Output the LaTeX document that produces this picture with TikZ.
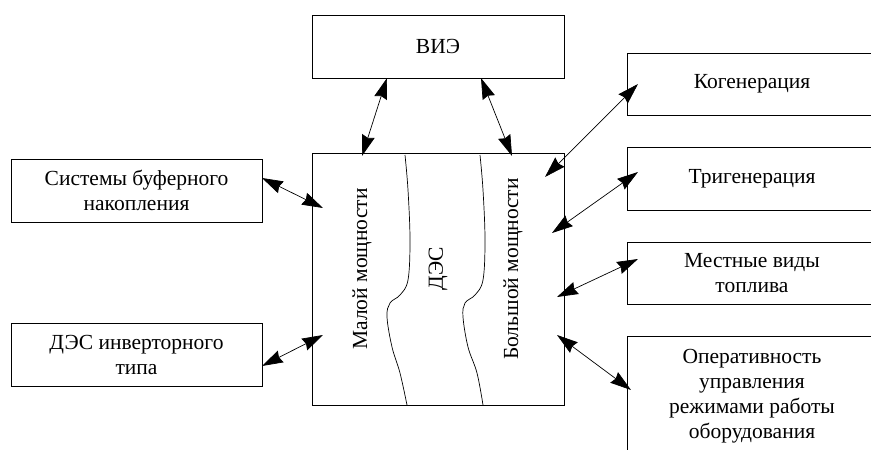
\documentclass[tikz,border=0pt]{standalone}
\usepackage{fontspec}
\setmainfont{Liberation Serif}
\usetikzlibrary{arrows.meta}
\begin{document}
\begin{tikzpicture}[x=1pt,y=-1pt,
  box/.style={draw, line width=0.8pt, rectangle, inner sep=0pt, align=center,
    font=\fontsize{21.5}{25}\selectfont},
  lbl/.style={inner sep=0pt, align=center, font=\fontsize{21.5}{25}\selectfont},
  arr/.tip={Stealth[length=21pt,width=13pt,inset=2pt]},
  conn/.style={line width=0.7pt, arr-arr},
  wave/.style={line width=0.7pt}]
\useasboundingbox (0,0) rectangle (871,450);
\clip (0,0) rectangle (871,450);
% boxes
\node[box, minimum width=252pt, minimum height=63pt] (vie) at (438,46.5) {ВИЭ};
\node[box, minimum width=252pt, minimum height=252pt] (des) at (438,279) {};
\node[box, minimum width=251pt, minimum height=63pt] (buf) at (136.5,190.5) {};
\node[lbl] at (buf) {Системы буферного\\накопления};
\node[box, minimum width=251pt, minimum height=63pt] (inv) at (136.5,354.5) {};
\node[lbl] at (inv) {ДЭС инверторного\\типа};
\node[box, minimum width=250pt, minimum height=62pt] (kog) at (752,84) {Когенерация};
\node[box, minimum width=250pt, minimum height=63pt] (tri) at (752,178.5) {Тригенерация};
\node[box, minimum width=250pt, minimum height=62pt] (mest) at (752,273) {};
\node[lbl] at (mest) {Местные виды\\топлива};
\node[box, minimum width=250pt, minimum height=124pt] (oper) at (752,398) {};
\node[lbl] at (752,396) {Оперативность\\управления\\режимами работы\\оборудования};
% texts inside DES
\node[lbl, rotate=90] (mal) at (362,269) {Малой мощности};
\node[lbl, rotate=90] (dec) at (438,269) {ДЭС};
\node[lbl, rotate=90] (bol) at (513,269) {Большой мощности};
% waves
\draw[wave] plot[smooth, tension=0.6] coordinates {(405,155) (408,190) (410,240) (408,280) (400,295) (390,303) (387,317) (392,347) (400,373) (407,405)};
\draw[wave] plot[smooth, tension=0.6] coordinates {(480,155) (483,190) (485,240) (483,280) (475,295) (465,303) (463,317) (468,347) (477,373) (483,405)};
% arrow end points
\coordinate (v1a) at (387,78);  \coordinate (v1b) at (362,156);
\coordinate (v2a) at (481,78);  \coordinate (v2b) at (512,156);
\coordinate (k1) at (638,84);   \coordinate (k2) at (545,177);
\coordinate (t1) at (638,172);  \coordinate (t2) at (552,233);
\coordinate (m1) at (638,259);  \coordinate (m2) at (557,297);
\coordinate (o1) at (631,390);  \coordinate (o2) at (557,335);
\coordinate (b1) at (262,178);  \coordinate (b2) at (323,208);
\coordinate (i1) at (262,366);  \coordinate (i2) at (323,335);
% connectors
\draw[conn] (v1a) -- (v1b);
\draw[conn] (v2a) -- (v2b);
\draw[conn] (k1) -- (k2);
\draw[conn] (t1) -- (t2);
\draw[conn] (m1) -- (m2);
\draw[conn] (o1) -- (o2);
\draw[conn] (b1) -- (b2);
\draw[conn] (i1) -- (i2);
\end{tikzpicture}
\end{document}
